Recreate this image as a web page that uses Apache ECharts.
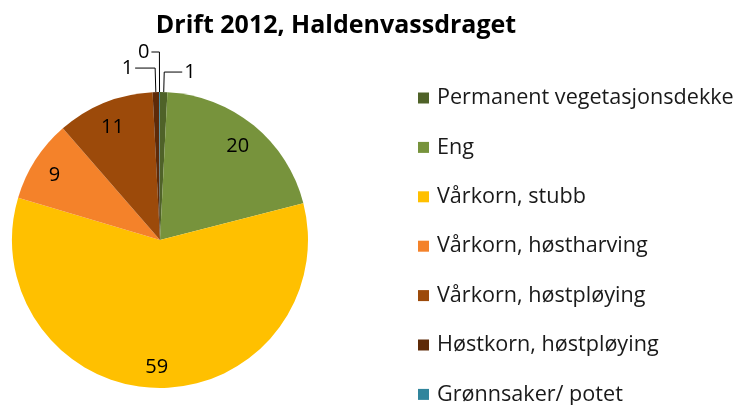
<!DOCTYPE html>
<html><head><meta charset="utf-8">
<script src="https://cdn.jsdelivr.net/npm/echarts@6/dist/echarts.min.js"></script>
<style>html,body{margin:0;padding:0;background:#fff}#c{width:736px;height:405px}</style>
</head><body><div id="c"></div>
<script>
const categories = ["Permanent vegetasjonsdekke","Eng","Vårkorn, stubb","Vårkorn, høstharving","Vårkorn, høstpløying","Høstkorn, høstpløying","Grønnsaker/ potet"];
const values = [0.8, 20.2, 58.6, 9.0, 10.6, 0.7, 0.1];
const colors = ["#4F6228","#77933C","#FFC000","#F4822A","#9C4A0A","#5E2A08","#31859C"];
const FONT = "Open Sans";
const R = 148;
// leader-line lengths for the small outside-labelled slices (style only)
const leader = [[20,18],[0,0],[0,0],[0,0],[0,0],[24,20],[40,8]];
const outsideData = categories.map((n,i)=>{
  const small = values[i] < 5;
  return {name:n, value:values[i],
    label:{show:small},
    labelLine:{show:small, length:leader[i][0], length2:leader[i][1]}};
});
const insideData = categories.map((n,i)=>({name:n, value:values[i], label:{show: values[i]>=5}}));
const chart = echarts.init(document.getElementById('c'));
chart.setOption({
  animation:false,
  color: colors,
  title:{text:"Drift 2012, Haldenvassdraget", left:331, top:8, textAlign:'center',
    textStyle:{fontFamily:FONT, fontWeight:'bold', fontSize:25, color:'#000'}},
  legend:{orient:'vertical', left:418, top:86, height:340, padding:0, itemWidth:11, itemHeight:11, itemGap:25.4,
    icon:'rect', selectedMode:false,
    textStyle:{fontFamily:FONT, fontSize:21.6, color:'#1a1a1a', lineHeight:24, padding:[0,0,0,3]}},
  series:[
    {type:'pie', center:[160,240], radius:R, startAngle:90, clockwise:true, silent:true,
     data: outsideData, itemStyle:{borderWidth:0}, avoidLabelOverlap:false,
     labelLayout:{hideOverlap:false},
     label:{position:'outside', fontFamily:FONT, fontSize:20, color:'#000', distanceToLabelLine:2,
       formatter:p=> String(Math.round(p.value))},
     labelLine:{lineStyle:{color:'#000', width:1}}
    },
    {type:'pie', center:[159,243], radius:[R*0.64, R], startAngle:90, clockwise:true, silent:true,
     data: insideData, itemStyle:{color:'rgba(0,0,0,0)'},
     label:{position:'inside', fontFamily:FONT, fontSize:20, color:'#000',
       formatter:p=> String(Math.round(p.value))},
     labelLine:{show:false}
    }
  ]
});
</script></body></html>
